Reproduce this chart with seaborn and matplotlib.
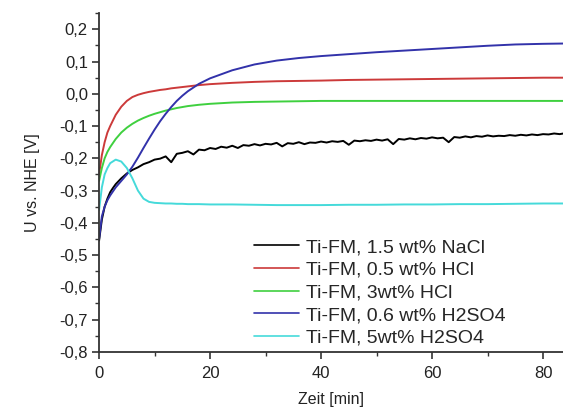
import matplotlib
matplotlib.use("Agg")
import matplotlib.pyplot as plt
import seaborn as sns
import pandas as pd
from matplotlib.ticker import FuncFormatter, MultipleLocator

# ---- data ----
labels = ["Ti-FM, 1.5 wt% NaCl", "Ti-FM, 0.5 wt% HCl", "Ti-FM, 3wt% HCl",
          "Ti-FM, 0.6 wt% H2SO4", "Ti-FM, 5wt% H2SO4"]
colors = ["#000000", "#cc3a3a", "#3fd03f", "#3232aa", "#45dada"]

t_smooth = [0, 0.5, 1, 1.5, 2, 3, 4, 5, 6, 7, 8, 9, 10, 11, 12, 13, 14, 15, 16, 18, 20,
            24, 28, 32, 36, 40, 45, 50, 55, 60, 65, 70, 75, 80, 84]
u_hcl05 = [-0.25, -0.19, -0.15, -0.12, -0.10, -0.065, -0.04, -0.022, -0.01, -0.003,
           0.002, 0.006, 0.009, 0.012, 0.014, 0.017, 0.019, 0.021, 0.023, 0.027, 0.030,
           0.034, 0.037, 0.039, 0.040, 0.041, 0.043, 0.044, 0.045, 0.046, 0.047, 0.048,
           0.049, 0.050, 0.050]
u_hcl3 = [-0.27, -0.23, -0.20, -0.18, -0.165, -0.14, -0.12, -0.105, -0.093, -0.083,
          -0.075, -0.068, -0.062, -0.057, -0.052, -0.048, -0.044, -0.041, -0.038, -0.034,
          -0.031, -0.027, -0.025, -0.024, -0.023, -0.022, -0.022, -0.022, -0.022, -0.022,
          -0.022, -0.022, -0.022, -0.022, -0.022]
u_h2so4_06 = [-0.45, -0.38, -0.35, -0.33, -0.315, -0.29, -0.27, -0.25, -0.226, -0.198,
              -0.168, -0.139, -0.111, -0.085, -0.062, -0.041, -0.022, -0.006, 0.008,
              0.031, 0.048, 0.073, 0.091, 0.103, 0.111, 0.117, 0.123, 0.129, 0.134,
              0.139, 0.144, 0.149, 0.153, 0.155, 0.156]
u_h2so4_5 = [-0.36, -0.29, -0.25, -0.23, -0.215, -0.204, -0.21, -0.23, -0.262, -0.30,
             -0.325, -0.335, -0.338, -0.339, -0.34, -0.34, -0.341, -0.341, -0.342,
             -0.342, -0.343, -0.343, -0.344, -0.345, -0.345, -0.345, -0.344, -0.344,
             -0.343, -0.343, -0.342, -0.342, -0.341, -0.340, -0.340]

t_nacl = [0, 0.5, 1, 1.5, 2, 2.5, 3] + list(range(4, 85))
u_nacl = [-0.455, -0.39, -0.35, -0.325, -0.305, -0.292, -0.28,
          -0.262, -0.247, -0.236, -0.228, -0.218, -0.212, -0.204, -0.201, -0.194, -0.212,
          -0.186, -0.183, -0.178, -0.188, -0.173, -0.175, -0.168, -0.171, -0.164, -0.167,
          -0.161, -0.168, -0.159, -0.161, -0.156, -0.160, -0.155, -0.157, -0.152, -0.163,
          -0.153, -0.155, -0.150, -0.156, -0.151, -0.152, -0.148, -0.151, -0.147, -0.149,
          -0.146, -0.158, -0.145, -0.147, -0.144, -0.146, -0.142, -0.145, -0.141, -0.156,
          -0.140, -0.142, -0.138, -0.141, -0.137, -0.139, -0.135, -0.138, -0.136, -0.150,
          -0.134, -0.136, -0.132, -0.135, -0.131, -0.133, -0.129, -0.132, -0.130, -0.131,
          -0.128, -0.130, -0.127, -0.129, -0.126, -0.128, -0.125, -0.126, -0.123, -0.125,
          -0.122]

x_ticks = [0, 20, 40, 60, 80]
y_ticks = [-0.8, -0.7, -0.6, -0.5, -0.4, -0.3, -0.2, -0.1, 0.0, 0.1, 0.2]

# ---- figure ----
sns.set_theme(style="ticks")
plt.rcParams["font.family"] = ["Liberation Sans", "DejaVu Sans"]

fig = plt.figure(figsize=(5.63, 4.12), dpi=100)
ax = fig.add_axes([0.176, 0.146, 0.824, 0.822])

series = [(t_nacl, u_nacl), (t_smooth, u_hcl05), (t_smooth, u_hcl3),
          (t_smooth, u_h2so4_06), (t_smooth, u_h2so4_5)]
for (tt, uu), lab, col in zip(series, labels, colors):
    df = pd.DataFrame({"t": tt, "u": uu})
    sns.lineplot(data=df, x="t", y="u", ax=ax, color=col, label=lab,
                 linewidth=1.4, sort=False, estimator=None)

ax.set_xlim(0, 83.6)
ax.set_ylim(-0.8, 0.25)
ax.set_xticks(x_ticks)
ax.set_yticks(y_ticks)
ax.xaxis.set_minor_locator(MultipleLocator(10))
ax.yaxis.set_minor_locator(MultipleLocator(0.05))
ax.yaxis.set_major_formatter(FuncFormatter(lambda v, p: f"{v:.1f}".replace(".", ",").replace("-0,0", "0,0")))
ax.tick_params(axis="both", which="major", labelsize=12, length=5, width=1.2,
               color="#333333", labelcolor="#222222", pad=3)
ax.tick_params(axis="x", which="major", pad=5)
ax.tick_params(axis="both", which="minor", length=3, width=1.0, color="#333333")
for s in ["top", "right"]:
    ax.spines[s].set_visible(False)
for s in ["left", "bottom"]:
    ax.spines[s].set_color("#333333")
    ax.spines[s].set_linewidth(1.3)

ax.set_xlabel("Zeit [min]", fontsize=11.5, color="#222222", labelpad=8)
ax.set_ylabel("U vs. NHE [V]", fontsize=11.5, color="#222222", labelpad=14)

leg = ax.legend(loc="upper left", bbox_to_anchor=(0.305, 0.375), frameon=False,
                fontsize=14, handlelength=2.3, handletextpad=0.35,
                labelspacing=0.26, borderpad=0.2)
for line in leg.get_lines():
    line.set_linewidth(1.2)

fig.savefig("out.png", dpi=100)
